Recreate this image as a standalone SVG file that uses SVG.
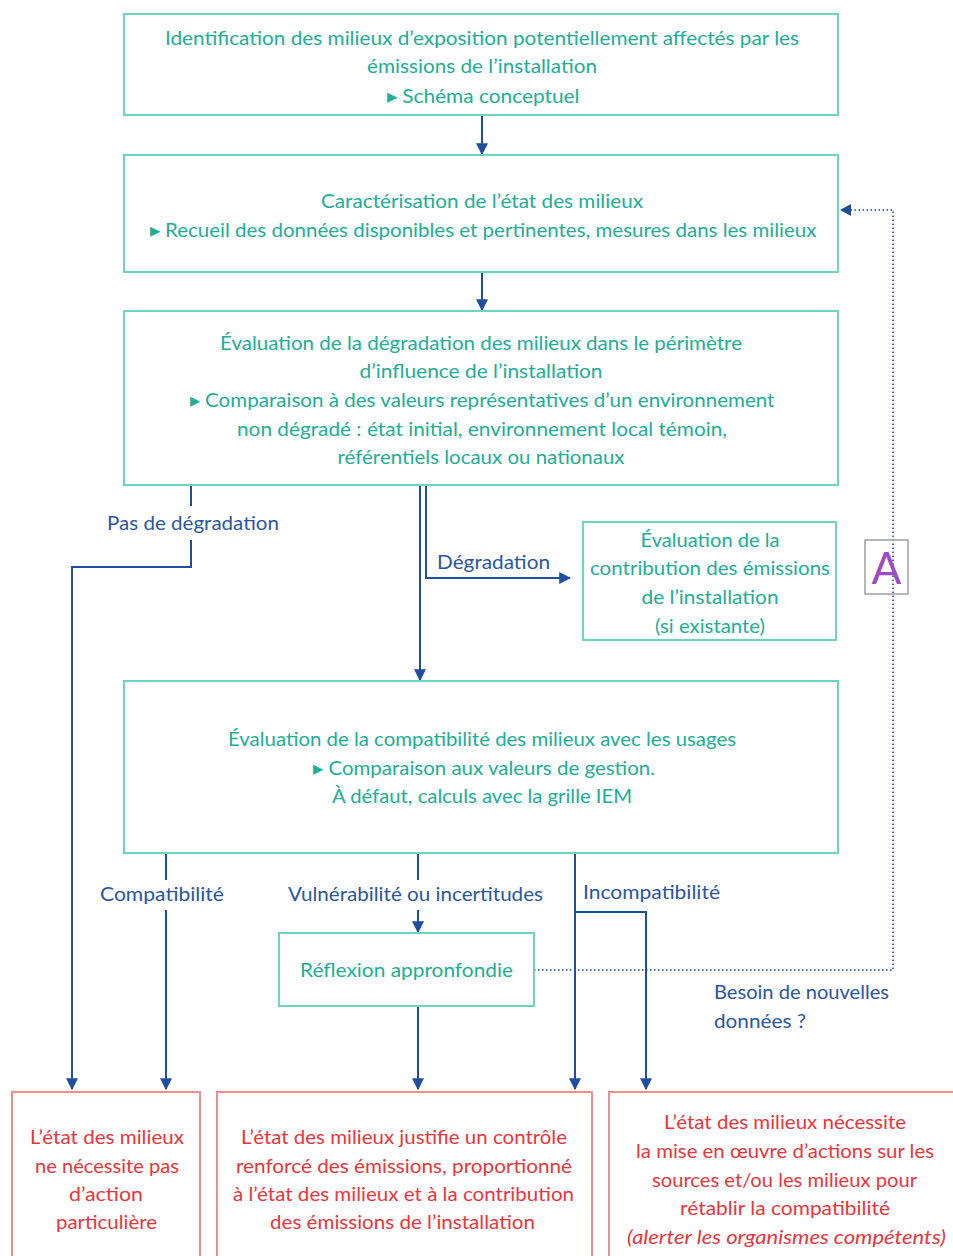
<svg xmlns="http://www.w3.org/2000/svg" width="953" height="1256" viewBox="0 0 953 1256">
<style>
.bg{fill:#ffffff}
.tb{fill:#ffffff;stroke:#6fd3bf;stroke-width:2}
.rb{fill:#ffffff;stroke:#f08c8c;stroke-width:2}
.tt{font-family:Lato,"Liberation Sans",sans-serif;font-size:20px;fill:#22ad94;text-anchor:middle}
.rt{font-family:Lato,"Liberation Sans",sans-serif;font-size:20px;fill:#e8353b;text-anchor:middle}
.lb{font-family:Lato,"Liberation Sans",sans-serif;font-size:20px;fill:#2b559f}
.ln{fill:none;stroke:#1f4f9c;stroke-width:2}
.dt{fill:none;stroke:#4a74b8;stroke-width:2;stroke-dasharray:1.5 2.5}
</style>
<defs>
<marker id="ah" viewBox="0 0 10 10" refX="9" refY="5" markerWidth="12" markerHeight="12" markerUnits="userSpaceOnUse" orient="auto">
<path d="M0,0 L10,5 L0,10 z" fill="#1f4f9c"/>
</marker>
</defs>
<rect class="bg" x="0" y="0" width="953" height="1256"/>

<g id="connectors">
<line class="ln" x1="482" y1="115" x2="482" y2="154" marker-end="url(#ah)"/>
<line class="ln" x1="482" y1="272" x2="482" y2="310" marker-end="url(#ah)"/>
<polyline class="ln" points="191,485 191,506"/>
<polyline class="ln" points="191,540 191,567 72,567 72,1089" marker-end="url(#ah)"/>
<line class="ln" x1="420" y1="485" x2="420" y2="680" marker-end="url(#ah)"/>
<polyline class="ln" points="426,485 426,578 570,578" marker-end="url(#ah)"/>
<polyline class="dt" points="534,970 893,970 893,210 841,210"/>
<path d="M840,210 L851,204 L851,216 z" fill="#1f4f9c"/>
<line class="ln" x1="166" y1="853" x2="166" y2="880"/>
<line class="ln" x1="166" y1="910" x2="166" y2="1089" marker-end="url(#ah)"/>
<line class="ln" x1="418" y1="853" x2="418" y2="880"/>
<line class="ln" x1="418" y1="910" x2="418" y2="932" marker-end="url(#ah)"/>
<line class="ln" x1="418" y1="1006" x2="418" y2="1089" marker-end="url(#ah)"/>
<line class="ln" x1="575" y1="853" x2="575" y2="1089" marker-end="url(#ah)"/>
<polyline class="ln" points="575,912 646,912 646,1089" marker-end="url(#ah)"/>
</g>

<g id="labels">
<text class="lb" x="107" y="530" textLength="172" lengthAdjust="spacingAndGlyphs">Pas de dégradation</text>
<text class="lb" x="437" y="569" textLength="113" lengthAdjust="spacingAndGlyphs">Dégradation</text>
<text class="lb" x="100" y="901" textLength="124" lengthAdjust="spacingAndGlyphs">Compatibilité</text>
<text class="lb" x="288" y="901" textLength="255" lengthAdjust="spacingAndGlyphs">Vulnérabilité ou incertitudes</text>
<text class="lb" x="583" y="899" textLength="137" lengthAdjust="spacingAndGlyphs">Incompatibilité</text>
<text class="lb" x="714" y="999" textLength="175" lengthAdjust="spacingAndGlyphs">Besoin de nouvelles</text>
<text class="lb" x="714" y="1028" textLength="92" lengthAdjust="spacingAndGlyphs">données ?</text>
</g>

<g id="node-identification">
<rect class="tb" x="124" y="14" width="714" height="101"/>
<text class="tt" x="482" y="45" textLength="634" lengthAdjust="spacingAndGlyphs">Identification des milieux d’exposition potentiellement affectés par les</text>
<text class="tt" x="482" y="73" textLength="230" lengthAdjust="spacingAndGlyphs">émissions de l’installation</text>
<text class="tt" x="483" y="103" textLength="193" lengthAdjust="spacingAndGlyphs">▸ Schéma conceptuel</text>
</g>

<g id="node-caracterisation">
<rect class="tb" x="124" y="155" width="714" height="117"/>
<text class="tt" x="482" y="208" textLength="322" lengthAdjust="spacingAndGlyphs">Caractérisation de l’état des milieux</text>
<text class="tt" x="483" y="237" textLength="667" lengthAdjust="spacingAndGlyphs">▸ Recueil des données disponibles et pertinentes, mesures dans les milieux</text>
</g>

<g id="node-degradation">
<rect class="tb" x="124" y="311" width="714" height="174"/>
<text class="tt" x="481" y="350" textLength="522" lengthAdjust="spacingAndGlyphs">Évaluation de la dégradation des milieux dans le périmètre</text>
<text class="tt" x="481" y="378" textLength="243" lengthAdjust="spacingAndGlyphs">d’influence de l’installation</text>
<text class="tt" x="482" y="407" textLength="585" lengthAdjust="spacingAndGlyphs">▸ Comparaison à des valeurs représentatives d’un environnement</text>
<text class="tt" x="482" y="436" textLength="490" lengthAdjust="spacingAndGlyphs">non dégradé : état initial, environnement local témoin,</text>
<text class="tt" x="481" y="464" textLength="287" lengthAdjust="spacingAndGlyphs">référentiels locaux ou nationaux</text>
</g>

<g id="node-contribution">
<rect class="tb" x="583" y="522" width="253" height="118"/>
<text class="tt" x="710" y="547" textLength="139" lengthAdjust="spacingAndGlyphs">Évaluation de la</text>
<text class="tt" x="710" y="575" textLength="240" lengthAdjust="spacingAndGlyphs">contribution des émissions</text>
<text class="tt" x="710" y="604" textLength="137" lengthAdjust="spacingAndGlyphs">de l’installation</text>
<text class="tt" x="710" y="633" textLength="110" lengthAdjust="spacingAndGlyphs">(si existante)</text>
</g>

<g id="node-A">
<rect x="865" y="540" width="43" height="54" fill="none" stroke="#a0a0a0" stroke-width="1.5"/>
<text x="886.5" y="584" font-family="Lato,'Liberation Sans',sans-serif" font-size="44" fill="#9b4dbf" text-anchor="middle">A</text>
</g>

<g id="node-compatibilite">
<rect class="tb" x="124" y="681" width="714" height="172"/>
<text class="tt" x="482" y="746" textLength="508" lengthAdjust="spacingAndGlyphs">Évaluation de la compatibilité des milieux avec les usages</text>
<text class="tt" x="484" y="775" textLength="342" lengthAdjust="spacingAndGlyphs">▸ Comparaison aux valeurs de gestion.</text>
<text class="tt" x="482" y="803" textLength="300" lengthAdjust="spacingAndGlyphs">À défaut, calculs avec la grille IEM</text>
</g>

<g id="node-reflexion">
<rect class="tb" x="279" y="933" width="255" height="73"/>
<text class="tt" x="406.5" y="977" textLength="213" lengthAdjust="spacingAndGlyphs">Réflexion appronfondie</text>
</g>

<g id="node-aucune-action">
<rect class="rb" x="12" y="1092" width="188" height="180"/>
<text class="rt" x="107" y="1144" textLength="154" lengthAdjust="spacingAndGlyphs">L’état des milieux</text>
<text class="rt" x="107" y="1173" textLength="144" lengthAdjust="spacingAndGlyphs">ne nécessite pas</text>
<text class="rt" x="106" y="1201" textLength="74" lengthAdjust="spacingAndGlyphs">d’action</text>
<text class="rt" x="106.5" y="1229" textLength="101" lengthAdjust="spacingAndGlyphs">particulière</text>
</g>

<g id="node-controle">
<rect class="rb" x="217" y="1092" width="375" height="180"/>
<text class="rt" x="404" y="1144" textLength="326" lengthAdjust="spacingAndGlyphs">L’état des milieux justifie un contrôle</text>
<text class="rt" x="404" y="1173" textLength="336" lengthAdjust="spacingAndGlyphs">renforcé des émissions, proportionné</text>
<text class="rt" x="403.5" y="1201" textLength="341" lengthAdjust="spacingAndGlyphs">à l’état des milieux et à la contribution</text>
<text class="rt" x="402.5" y="1229" textLength="265" lengthAdjust="spacingAndGlyphs">des émissions de l’installation</text>
</g>

<g id="node-actions">
<rect class="rb" x="609" y="1092" width="360" height="180"/>
<text class="rt" x="785" y="1129" textLength="242" lengthAdjust="spacingAndGlyphs">L’état des milieux nécessite</text>
<text class="rt" x="785" y="1158" textLength="298" lengthAdjust="spacingAndGlyphs">la mise en œuvre d’actions sur les</text>
<text class="rt" x="784.5" y="1187" textLength="265" lengthAdjust="spacingAndGlyphs">sources et/ou les milieux pour</text>
<text class="rt" x="785" y="1215" textLength="210" lengthAdjust="spacingAndGlyphs">rétablir la compatibilité</text>
<text class="rt" x="786.5" y="1244" textLength="319" lengthAdjust="spacingAndGlyphs" font-style="italic">(alerter les organismes compétents)</text>
</g>
</svg>
